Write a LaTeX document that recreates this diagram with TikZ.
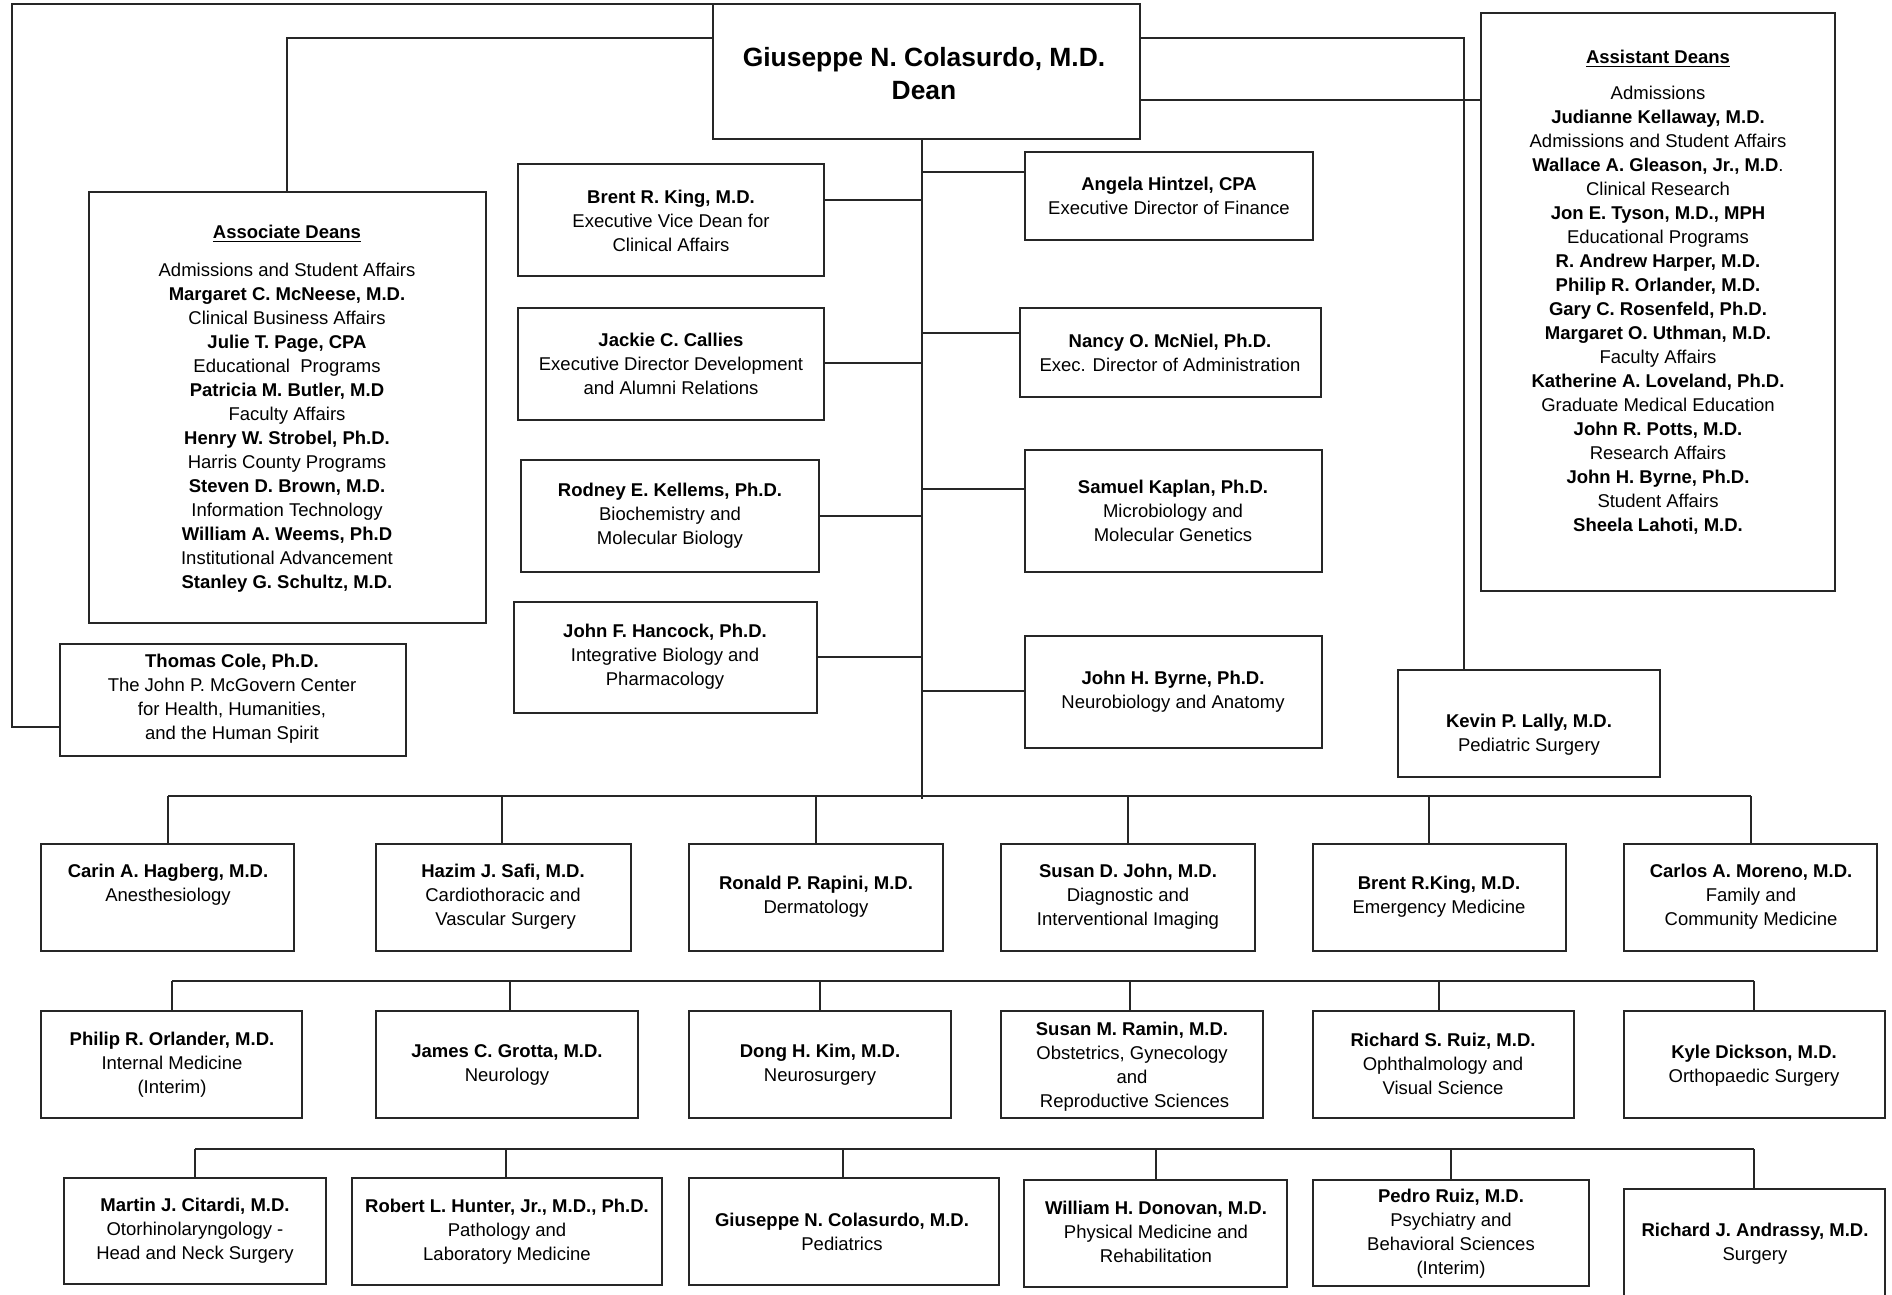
\documentclass[tikz,border=0pt]{standalone}
\usepackage{fontspec}
\setmainfont{Liberation Sans}
\newcommand\bx[5]{\node[box, minimum width={(#4-#2)*0.5pt}, minimum height={(#5-#3)*0.5pt}] (#1) at ({(#2+#4)/2},{(#3+#5)/2}) {};}
\begin{document}
\begin{tikzpicture}[x=0.5pt,y=-0.5pt,
  box/.style={draw=black!85, line width=0.6pt, inner sep=0pt, outer sep=0pt},
  ln/.style={draw=black!85, line width=0.6pt},
  txt/.style={align=center, font=\fontsize{9.25}{12}\selectfont, inner sep=0pt, text=black},
  ttl/.style={align=center, font=\fontsize{13.2}{16.5}\selectfont\bfseries, inner sep=0pt}]
\useasboundingbox (0,0) rectangle (1892,1295);
% ---------- boxes ----------
\bx{dean}{713}{4}{1140}{139}
\bx{assoc}{89}{192}{486}{623}
\bx{asst}{1481}{13}{1835}{591}
\bx{king}{518}{164}{824}{276}
\bx{jackie}{518}{308}{824}{420}
\bx{kellems}{521}{460}{819}{572}
\bx{hancock}{514}{602}{817}{713}
\bx{hintzel}{1025}{152}{1313}{240}
\bx{nancy}{1020}{308}{1321}{397}
\bx{kaplan}{1025}{450}{1322}{572}
\bx{byrne}{1025}{636}{1322}{748}
\bx{cole}{60}{644}{406}{756}
\bx{kevin}{1398}{670}{1660}{777}
\bx{hag}{41}{844}{294}{951}
\bx{safi}{376}{844}{631}{951}
\bx{rapini}{689}{844}{943}{951}
\bx{sjohn}{1001}{844}{1255}{951}
\bx{bking}{1313}{844}{1566}{951}
\bx{moreno}{1624}{844}{1877}{951}
\bx{orl}{41}{1011}{302}{1118}
\bx{grotta}{376}{1011}{638}{1118}
\bx{kim}{689}{1011}{951}{1118}
\bx{ramin}{1001}{1011}{1263}{1118}
\bx{ruiz}{1313}{1011}{1574}{1118}
\bx{dickson}{1624}{1011}{1885}{1118}
\bx{citardi}{64}{1178}{326}{1284}
\bx{hunter}{352}{1178}{662}{1285}
\bx{colas}{689}{1178}{999}{1285}
\bx{donovan}{1024}{1180}{1287}{1287}
\bx{pedro}{1313}{1180}{1589}{1286}
\bx{andrassy}{1624}{1189}{1885}{1304}
% ---------- texts ----------
\node[ttl] (dean-t) at (924,73.5) {Giuseppe N. Colasurdo, M.D.\\Dean};
\node[txt] (assoc-t) at (287,409) {\textbf{\underline{Associate Deans}}\\[7pt]
Admissions and Student Affairs\\
\textbf{Margaret C. McNeese, M.D.}\\
Clinical Business Affairs\\
\textbf{Julie T. Page, CPA}\\
Educational\ \ Programs\\
\textbf{Patricia M. Butler, M.D}\\
Faculty Affairs\\
\textbf{Henry W. Strobel, Ph.D.}\\
Harris County Programs\\
\textbf{Steven D. Brown, M.D.}\\
Information Technology\\
\textbf{William A. Weems, Ph.D}\\
Institutional Advancement\\
\textbf{Stanley G. Schultz, M.D.}};
\node[txt] (asst-t) at (1658,292) {\textbf{\underline{Assistant Deans}}\\[6pt]
Admissions\\
\textbf{Judianne Kellaway, M.D.}\\
Admissions and Student Affairs\\
\textbf{Wallace A. Gleason, Jr., M.D}.\\
Clinical Research\\
\textbf{Jon E. Tyson, M.D., MPH}\\
Educational Programs\\
\textbf{R. Andrew Harper, M.D.}\\
\textbf{Philip R. Orlander, M.D.}\\
\textbf{Gary C. Rosenfeld, Ph.D.}\\
\textbf{Margaret O. Uthman, M.D.}\\
Faculty Affairs\\
\textbf{Katherine A. Loveland, Ph.D.}\\
Graduate Medical Education\\
\textbf{John R. Potts, M.D.}\\
Research Affairs\\
\textbf{John H. Byrne, Ph.D.}\\
Student Affairs\\
\textbf{Sheela Lahoti, M.D.}};
\node[txt] (king-t) at (671,220.5) {\textbf{Brent R. King, M.D.}\\Executive Vice Dean for\\Clinical Affairs};
\node[txt] (jackie-t) at (671,364) {\textbf{Jackie C. Callies}\\Executive Director Development\\and Alumni Relations};
\node[txt] (kellems-t) at (670,516) {\textbf{Rodney E. Kellems, Ph.D.}\\Biochemistry and\\Molecular Biology};
\node[txt] (hancock-t) at (665,657) {\textbf{John F. Hancock, Ph.D.}\\Integrative Biology and\\Pharmacology};
\node[txt] (hintzel-t) at (1169,196) {\textbf{Angela Hintzel, CPA}\\Executive Director of Finance};
\node[txt] (nancy-t) at (1170,353) {\textbf{Nancy O. McNiel, Ph.D.}\\Exec. Director of Administration};
\node[txt] (kaplan-t) at (1173,511) {\textbf{Samuel Kaplan, Ph.D.}\\Microbiology and\\Molecular Genetics};
\node[txt] (byrne-t) at (1173,691.5) {\textbf{John H. Byrne, Ph.D.}\\Neurobiology and Anatomy};
\node[txt] (cole-t) at (232,699) {\textbf{Thomas Cole, Ph.D.}\\The John P. McGovern Center\\for Health, Humanities,\\and the Human Spirit};
\node[txt] (kevin-t) at (1529,735) {\textbf{Kevin P. Lally, M.D.}\\Pediatric Surgery};
\node[txt] (hag-t) at (168,884.5) {\textbf{Carin A. Hagberg, M.D.}\\Anesthesiology};
\node[txt] (safi-t) at (503,896.5) {\textbf{Hazim J. Safi, M.D.}\\Cardiothoracic and\\\ Vascular Surgery};
\node[txt] (rapini-t) at (816,897) {\textbf{Ronald P. Rapini, M.D.}\\Dermatology};
\node[txt] (sjohn-t) at (1128,897) {\textbf{Susan D. John, M.D.}\\Diagnostic and\\Interventional Imaging};
\node[txt] (bking-t) at (1439,897) {\textbf{Brent R.King, M.D.}\\Emergency Medicine};
\node[txt] (moreno-t) at (1751,897) {\textbf{Carlos A. Moreno, M.D.}\\Family and\\Community Medicine};
\node[txt] (orl-t) at (172,1065) {\textbf{Philip R. Orlander, M.D.}\\Internal Medicine\\(Interim)};
\node[txt] (grotta-t) at (507,1065) {\textbf{James C. Grotta, M.D.}\\Neurology};
\node[txt] (kim-t) at (820,1065) {\textbf{Dong H. Kim, M.D.}\\Neurosurgery};
\node[txt] (ramin-t) at (1132,1066.5) {\textbf{Susan M. Ramin, M.D.}\\Obstetrics, Gynecology\\and\\\ Reproductive Sciences};
\node[txt] (ruiz-t) at (1443,1064) {\textbf{Richard S. Ruiz, M.D.}\\Ophthalmology and\\Visual Science};
\node[txt] (dickson-t) at (1754,1066) {\textbf{Kyle Dickson, M.D.}\\Orthopaedic Surgery};
\node[txt] (citardi-t) at (195,1230.5) {\textbf{Martin J. Citardi, M.D.}\\Otorhinolaryngology -\\Head and Neck Surgery};
\node[txt] (hunter-t) at (507,1231.5) {\textbf{Robert L. Hunter, Jr., M.D., Ph.D.}\\Pathology and\\Laboratory Medicine};
\node[txt] (colas-t) at (842,1231.5) {\textbf{Giuseppe N. Colasurdo, M.D.}\\Pediatrics};
\node[txt] (donovan-t) at (1156,1232) {\textbf{William H. Donovan, M.D.}\\Physical Medicine and\\Rehabilitation};
\node[txt] (pedro-t) at (1451,1234) {\textbf{Pedro Ruiz, M.D.}\\Psychiatry and\\Behavioral Sciences\\(Interim)};
\node[txt] (andrassy-t) at (1755,1244) {\textbf{Richard J. Andrassy, M.D.}\\Surgery};
% ---------- connectors ----------
\coordinate (otl) at (12,4);
\coordinate (obl) at (12,727);
\draw[ln] (dean.north west) -- (otl) -- (obl) -- (obl -| cole.west);
\coordinate (al) at (287,38);
\draw[ln] (al -| dean.west) -- (al) -- (al |- assoc.north);
\coordinate (ar) at (1464,38);
\draw[ln] (ar -| dean.east) -- (ar) -- (ar |- kevin.north);
\coordinate (asl) at (1313,100);
\draw[ln] (asl -| dean.east) -- (asl -| asst.west);
\draw[ln, line width=1.3pt] (asl) -- (asl -| asst.west);
\coordinate (tb) at (922,799);
\draw[ln] (tb |- dean.south) -- (tb);
\foreach \n/\yy in {king/200, jackie/363, kellems/516, hancock/657}
  {\coordinate (t-\n) at (922,\yy); \draw[ln] (t-\n) -- (t-\n -| \n.east);}
\foreach \n/\yy in {hintzel/172, nancy/333, kaplan/489, byrne/691}
  {\coordinate (t-\n) at (922,\yy); \draw[ln] (t-\n) -- (t-\n -| \n.west);}
% row 1
\coordinate (b1l) at (168,796); \coordinate (b1r) at (1751,796);
\draw[ln] (b1l) -- (b1r);
\foreach \n/\xx in {hag/168, safi/502, rapini/816, sjohn/1128, bking/1429, moreno/1751}
  {\coordinate (d-\n) at (\xx,796); \draw[ln] (d-\n) -- (d-\n |- \n.north);}
% row 2
\coordinate (b2l) at (172,981); \coordinate (b2r) at (1754,981);
\draw[ln] (b2l) -- (b2r);
\foreach \n/\xx in {orl/172, grotta/510, kim/820, ramin/1130, ruiz/1439, dickson/1754}
  {\coordinate (d-\n) at (\xx,981); \draw[ln] (d-\n) -- (d-\n |- \n.north);}
% row 3
\coordinate (b3l) at (195,1149); \coordinate (b3r) at (1754,1149);
\draw[ln] (b3l) -- (b3r);
\foreach \n/\xx in {citardi/195, hunter/506, colas/843, donovan/1156, pedro/1451, andrassy/1754}
  {\coordinate (d-\n) at (\xx,1149); \draw[ln] (d-\n) -- (d-\n |- \n.north);}
\end{tikzpicture}
\end{document}
